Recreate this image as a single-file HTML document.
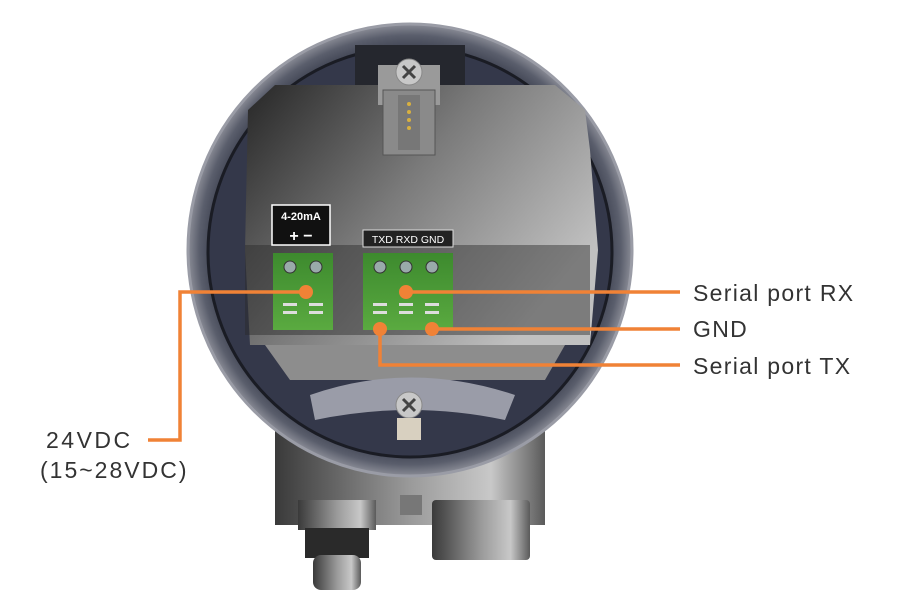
<!DOCTYPE html>
<html><head><meta charset="utf-8"><style>
html,body{margin:0;padding:0;background:#fff;}
svg{display:block;}
text{font-family:"Liberation Sans",sans-serif;}
</style></head><body>
<svg width="900" height="602" viewBox="0 0 900 602">
<defs>
<linearGradient id="body" x1="0" x2="1" y1="0" y2="0">
<stop offset="0" stop-color="#3a3a3a"/><stop offset="0.5" stop-color="#9a9a9a"/><stop offset="0.8" stop-color="#c8c8c8"/><stop offset="1" stop-color="#5a5a5a"/></linearGradient>
<linearGradient id="panel" x1="0" y1="0" x2="1" y2="0.6">
<stop offset="0" stop-color="#262626"/><stop offset="0.5" stop-color="#7a7a7a"/><stop offset="1" stop-color="#c0c0c0"/></linearGradient>
<radialGradient id="ring" cx="0.5" cy="0.5" r="0.5">
<stop offset="0.88" stop-color="#3b3f4e"/><stop offset="0.95" stop-color="#5a5e6c"/><stop offset="1" stop-color="#8a8c96"/></radialGradient>
<linearGradient id="green" x1="0" x2="0" y1="0" y2="1"><stop offset="0" stop-color="#3d8a2e"/><stop offset="1" stop-color="#5aaa40"/></linearGradient>
</defs>
<rect x="275" y="430" width="270" height="95" fill="url(#body)"/>
<rect x="298" y="500" width="78" height="30" fill="url(#body)"/>
<rect x="305" y="528" width="64" height="30" fill="#2a2a2a"/>
<rect x="313" y="555" width="48" height="35" rx="8" fill="url(#body)"/>
<rect x="432" y="500" width="98" height="60" rx="4" fill="url(#body)"/>
<rect x="400" y="495" width="22" height="20" fill="#777"/>
<ellipse cx="410" cy="250" rx="222" ry="226" fill="url(#ring)"/>
<ellipse cx="410" cy="250" rx="222" ry="226" fill="none" stroke="#9a9ca6" stroke-width="3"/>
<ellipse cx="410" cy="252" rx="202" ry="205" fill="#34384a" stroke="#1a1c24" stroke-width="3"/>
<rect x="355" y="45" width="110" height="45" fill="#25272e"/>
<path d="M248 110 L275 85 L555 85 L585 110 L590 150 L598 250 L590 345 L250 345 L245 250 Z" fill="url(#panel)"/>
<path d="M265 345 L565 345 L545 380 L290 380 Z" fill="#8d8d8d"/>
<rect x="245" y="245" width="345" height="90" fill="#2a2a2a" opacity="0.45"/>
<rect x="378" y="65" width="62" height="40" fill="#9a9a9a"/>
<circle cx="409" cy="72" r="13" fill="#c8c8c8" stroke="#888"/>
<path d="M403 66 L415 78 M415 66 L403 78" stroke="#444" stroke-width="3"/>
<rect x="383" y="90" width="52" height="65" fill="#8a8a8a" stroke="#555"/>
<rect x="398" y="95" width="22" height="55" fill="#777"/>
<g fill="#d8b040"><circle cx="409" cy="104" r="2"/><circle cx="409" cy="112" r="2"/><circle cx="409" cy="120" r="2"/><circle cx="409" cy="128" r="2"/></g>
<rect x="272" y="205" width="58" height="40" fill="#111" stroke="#fff" stroke-width="1.5"/>
<text x="301" y="220" font-family="Liberation Serif" font-size="11" fill="#fff" text-anchor="middle" font-weight="bold">4-20mA</text>
<text x="301" y="241" font-size="16" fill="#fff" text-anchor="middle" font-weight="bold">+ −</text>
<rect x="363" y="230" width="90" height="17" fill="#222" stroke="#ddd"/>
<text x="408" y="243" font-family="Liberation Serif" font-size="10.5" fill="#fff" text-anchor="middle">TXD RXD GND</text>
<rect x="273" y="253" width="60" height="77" fill="url(#green)"/>
<rect x="363" y="253" width="90" height="77" fill="url(#green)"/>
<g fill="#9aa" stroke="#333"><circle cx="290" cy="267" r="6"/><circle cx="316" cy="267" r="6"/><circle cx="380" cy="267" r="6"/><circle cx="406" cy="267" r="6"/><circle cx="432" cy="267" r="6"/></g>
<g fill="#ddd"><rect x="283" y="303" width="14" height="3"/><rect x="283" y="311" width="14" height="3"/><rect x="309" y="303" width="14" height="3"/><rect x="309" y="311" width="14" height="3"/>
<rect x="373" y="303" width="14" height="3"/><rect x="373" y="311" width="14" height="3"/><rect x="399" y="303" width="14" height="3"/><rect x="399" y="311" width="14" height="3"/><rect x="425" y="303" width="14" height="3"/><rect x="425" y="311" width="14" height="3"/></g>
<path d="M310 395 Q410 360 515 395 L505 420 Q410 400 315 420 Z" fill="#9a9ca8"/>
<circle cx="409" cy="405" r="13" fill="#c8c8c8" stroke="#888"/>
<path d="M403 399 L415 411 M415 399 L403 411" stroke="#444" stroke-width="3"/>
<rect x="397" y="418" width="24" height="22" fill="#d8d0c0"/>
<g stroke="#f08236" stroke-width="3.5" fill="none">
<path d="M148 440 H180 V292 H306"/>
<path d="M406 292 H680"/>
<path d="M432 329 H680"/>
<path d="M380 329 V365 H680"/>
</g>
<g fill="#f08236"><circle cx="306" cy="292" r="7"/><circle cx="406" cy="292" r="7"/><circle cx="432" cy="329" r="7"/><circle cx="380" cy="329" r="7"/></g>
<g font-size="23" fill="#333" letter-spacing="1.3">
<text x="693" y="301">Serial port RX</text>
<text x="693" y="337">GND</text>
<text x="693" y="374">Serial port TX</text>
<text x="46" y="448" letter-spacing="2.5">24VDC</text>
<text x="40" y="478" letter-spacing="2">(15~28VDC)</text>
</g>
</svg>
</body></html>
